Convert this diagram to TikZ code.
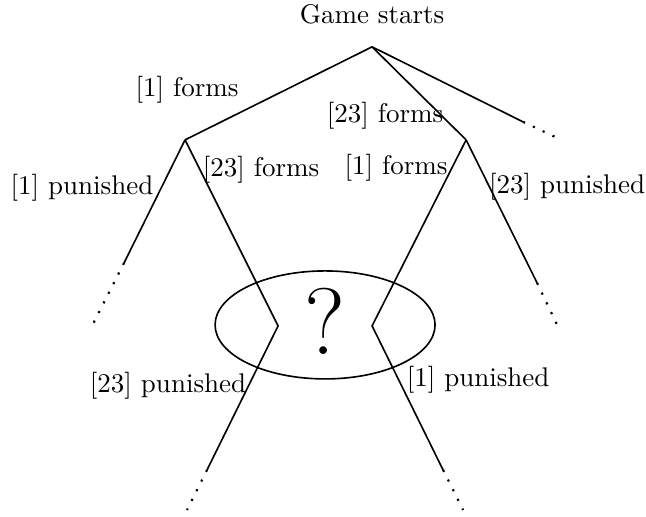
\documentclass[tikz,border=0pt]{standalone}
\usetikzlibrary{positioning,shapes.geometric}

\tikzset{dotline/.style={line width=0.8pt, dash pattern=on 0.8pt off 3.2pt}}

\begin{document}
\begin{tikzpicture}[semithick]

	\useasboundingbox (0,0) rectangle (8.41,6.73);

	\coordinate (root) at (4.844,6.12);
	\coordinate (left) at (2.409,4.909);
	\coordinate (right) at (6.068,4.909);
	\coordinate (inleft) at (3.62,2.487);
	\coordinate (inright) at (4.844,2.487);

	\coordinate (topend) at (6.81,5.143);
	\coordinate (topdot) at (7.253,4.935);
	\coordinate (llend) at (1.615,3.307);
	\coordinate (lldot) at (1.211,2.513);
	\coordinate (rrend) at (6.992,3.047);
	\coordinate (rrdot) at (7.253,2.5);
	\coordinate (blend) at (2.695,0.612);
	\coordinate (bldot) at (2.435,0.091);
	\coordinate (brend) at (5.768,0.612);
	\coordinate (brdot) at (6.029,0.091);

	\node (start) at (4.844,6.549) {Game starts};

	\node (qmark) [ellipse, draw, minimum width=2.864cm, minimum height=1.406cm, inner sep=0pt] at (4.232,2.5) {};
	\node (quest) at (4.232,2.55) {\fontsize{35}{40}\selectfont ?};

	\draw (root) -- (left);
	\draw (root) -- (right);
	\draw (root) -- (topend);
	\draw [dotline] (topend) -- (topdot);

	\draw (left) -- (llend);
	\draw [dotline] (llend) -- (lldot);
	\draw (left) -- (inleft) -- (blend);
	\draw [dotline] (blend) -- (bldot);

	\draw (right) -- (rrend);
	\draw [dotline] (rrend) -- (rrdot);
	\draw (right) -- (inright) -- (brend);
	\draw [dotline] (brend) -- (brdot);

	\node (f1a) at (2.435,5.56) {[1] forms};
	\node (f23a) at (5.013,5.221) {[23] forms};
	\node (p1a) at (1.068,4.284) {[1] punished};
	\node (f23b) at (3.398,4.518) {[23] forms};
	\node (f1b) at (5.156,4.544) {[1] forms};
	\node (p23a) at (7.383,4.297) {[23] punished};
	\node (p23b) at (2.188,1.706) {[23] punished};
	\node (p1b) at (6.224,1.784) {[1] punished};

\end{tikzpicture}
\end{document}
